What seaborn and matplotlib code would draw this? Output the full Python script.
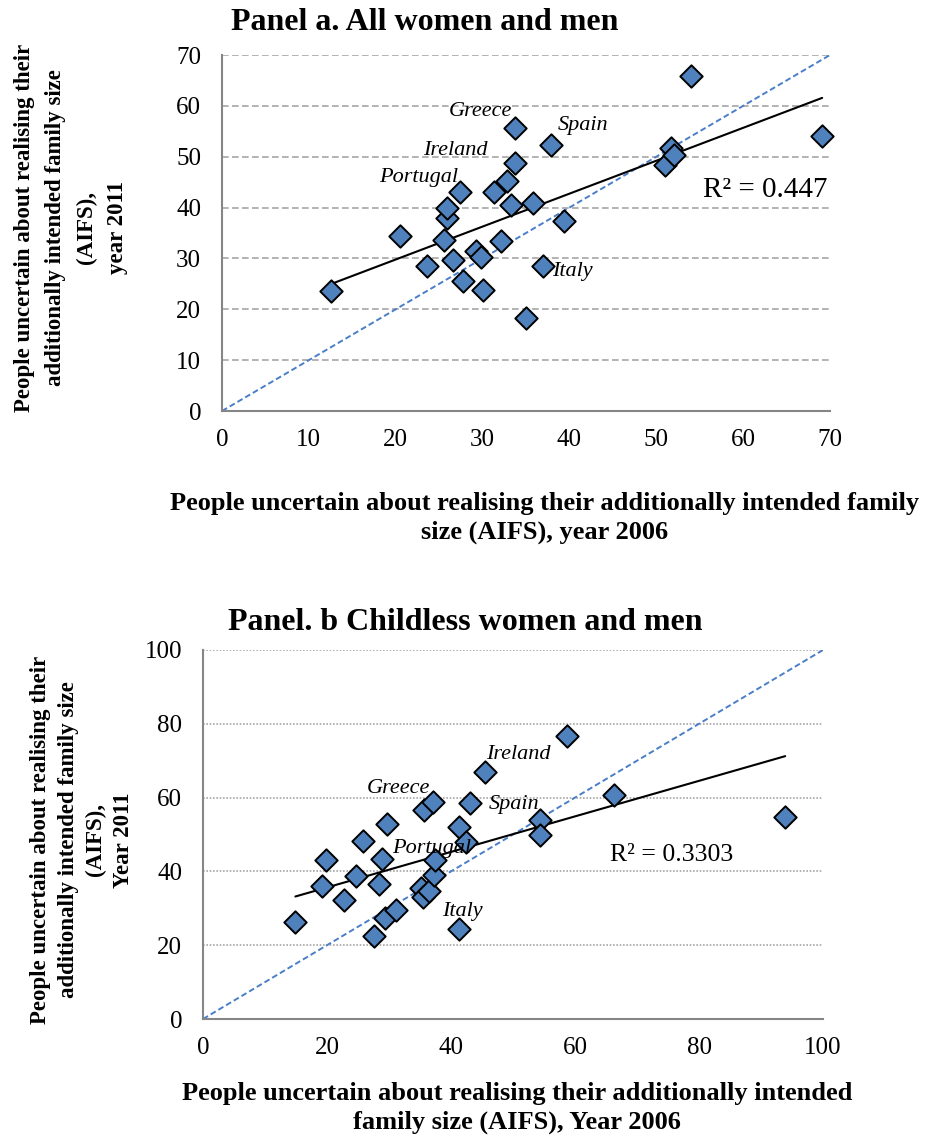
import numpy as np
import pandas as pd
import matplotlib
matplotlib.use("Agg")
import matplotlib.pyplot as plt
import seaborn as sns

# ---------------- data ----------------
a_x2006 = [12.6, 20.5, 23.6, 25.6, 25.9, 25.9, 26.6, 27.4, 27.8, 29.2, 29.8, 30.1, 31.3, 32.1,
           32.8, 33.3, 33.7, 33.7, 35.0, 35.8, 37.0, 37.9, 39.4, 51.0, 51.7, 52.0, 54.0, 69.1]
a_y2011 = [23.6, 34.4, 28.5, 33.6, 37.9, 40.0, 29.7, 43.0, 25.5, 31.5, 30.2, 23.8, 43.0, 33.5,
           45.3, 40.5, 48.7, 55.6, 18.2, 40.9, 28.6, 52.3, 37.4, 48.3, 51.8, 50.3, 65.9, 54.1]

b_x2006 = [14.9, 19.2, 19.9, 22.7, 24.7, 25.8, 27.6, 28.4, 28.9, 29.3, 29.6, 31.2, 35.2, 35.5,
           35.7, 36.4, 37.1, 37.2, 37.4, 41.3, 41.3, 42.4, 43.1, 45.5, 54.3, 54.3, 58.7, 66.3, 93.9]
b_y2011 = [26.2, 36.1, 43.0, 32.3, 38.7, 48.2, 22.6, 36.5, 43.4, 27.4, 52.9, 29.6, 35.6, 33.0,
           56.6, 34.6, 58.8, 38.9, 43.2, 51.9, 24.3, 47.9, 58.6, 67.0, 54.0, 49.8, 76.7, 60.6, 54.8]

a_labels = ["Greece", "Spain", "Ireland", "Portugal", "Italy"]
a_label_x = [29.8, 41.6, 26.9, 22.6, 40.4]
a_label_y = [58.8, 56.2, 51.3, 46.0, 27.5]

b_labels = ["Ireland", "Greece", "Spain", "Portugal", "Italy"]
b_label_x = [50.8, 31.5, 50.2, 36.9, 41.8]
b_label_y = [71.8, 62.6, 58.0, 46.1, 29.0]

a_ticks = [0, 10, 20, 30, 40, 50, 60, 70]
b_ticks = [0, 20, 40, 60, 80, 100]

a_r2 = "R² = 0.447"
b_r2 = "R² = 0.3303"

# ---------------- style ----------------
sns.set_style("white")
plt.rcParams['font.family'] = ['Liberation Serif', 'DejaVu Serif']
plt.rcParams['axes.unicode_minus'] = False
plt.rcParams['text.color'] = 'black'
plt.rcParams['xtick.color'] = 'black'
plt.rcParams['ytick.color'] = 'black'
plt.rcParams['axes.labelcolor'] = 'black'

FILL = "#4F81BD"
DIAG = "#4A7EC8"
GRID = "#A6A6A6"
SPINE = "#868686"

fig = plt.figure(figsize=(9.26, 11.40), dpi=100)
ax_a = fig.add_axes([222/926, 1-411/1140, (830-222)/926, (411-55)/1140])
ax_b = fig.add_axes([203/926, 1-1019/1140, (823-203)/926, (1019-650)/1140])


def style_axes(ax, ticks, gridstyle):
    lim = ticks[-1]
    ax.set_xlim(0, lim)
    ax.set_ylim(0, lim)
    ax.set_xticks(ticks)
    ax.set_yticks(ticks)
    for s in ["top", "right"]:
        ax.spines[s].set_visible(False)
    for s in ["left", "bottom"]:
        ax.spines[s].set_color(SPINE)
        ax.spines[s].set_linewidth(1.5)
    ax.tick_params(axis="both", which="major", direction="out", length=6, width=1.3,
                   color=SPINE, labelcolor="black", labelsize=18, pad=7)
    ax.tick_params(axis="y", pad=9)
    ax.yaxis.grid(True, color=GRID, linestyle=gridstyle, linewidth=1.2)
    ax.xaxis.grid(False)
    ax.set_axisbelow(True)


def panel(ax, xs, ys, ticks, gridstyle, labels, lx, ly, r2txt, r2pos, r2size):
    df = pd.DataFrame({"x": xs, "y": ys})
    style_axes(ax, ticks, gridstyle)
    lim = ticks[-1]
    ax.plot([0, lim], [0, lim], linestyle=(0, (3, 1.6)), color=DIAG, linewidth=1.4, zorder=2)
    k, b = np.polyfit(df["x"], df["y"], 1)
    xr = np.array([df["x"].min(), df["x"].max()])
    ax.plot(xr, k * xr + b, color="black", linewidth=1.5, zorder=3)
    sns.scatterplot(data=df, x="x", y="y", ax=ax, marker="D", s=130, color=FILL,
                    edgecolor="black", linewidth=1.4, zorder=4, clip_on=False, legend=False)
    ax.set_xlabel("")
    ax.set_ylabel("")
    for t, x, y in zip(labels, lx, ly):
        ax.text(x, y, t, fontsize=16, style="italic", ha="center", va="center", zorder=5,
                color="black")
    ax.text(r2pos[0], r2pos[1], r2txt, fontsize=r2size, ha="center", va="center", zorder=5,
            color="black")


panel(ax_a, a_x2006, a_y2011, a_ticks, (0, (4, 2)), a_labels, a_label_x, a_label_y,
      a_r2, (62.5, 43.5), 21)
panel(ax_b, b_x2006, b_y2011, b_ticks, (0, (1, 1)), b_labels, b_label_x, b_label_y,
      b_r2, (75.6, 44.4), 18.5)

# titles
fig.text(425/926, 1-22/1140, "Panel a. All women and men", fontsize=23, fontweight="bold",
         ha="center", va="center", color="black")
fig.text(465/926, 1-622/1140, "Panel. b Childless women and men", fontsize=23, fontweight="bold",
         ha="center", va="center", color="black")

# x labels
fig.text(545/926, 1-518/1140,
         "People uncertain about realising their additionally intended family\nsize (AIFS), year 2006",
         fontsize=19, fontweight="bold", ha="center", va="center", multialignment="center",
         linespacing=1.3, color="black")
fig.text(517/926, 1-1108/1140,
         "People uncertain about realising their additionally intended\nfamily size (AIFS), Year 2006",
         fontsize=19, fontweight="bold", ha="center", va="center", multialignment="center",
         linespacing=1.3, color="black")

# y labels
fig.text(71/926, 1-228/1140,
         "People uncertain about realising their\nadditionally intended family size\n(AIFS),\nyear 2011",
         fontsize=16.5, fontweight="bold", rotation=90, ha="center", va="center",
         multialignment="center", linespacing=1.6, color="black")
fig.text(82/926, 1-840/1140,
         "People uncertain about realising their\nadditionally intended family size\n(AIFS),\nYear 2011",
         fontsize=16.5, fontweight="bold", rotation=90, ha="center", va="center",
         multialignment="center", linespacing=1.4, color="black")

fig.savefig("out.png", dpi=100)
